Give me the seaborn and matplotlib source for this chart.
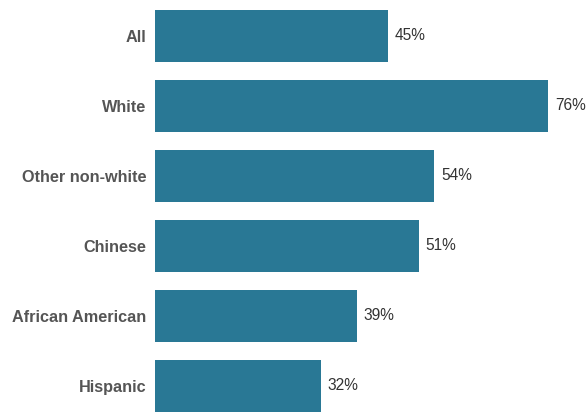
import pandas as pd
import matplotlib.pyplot as plt
import seaborn as sns

# Data
groups = ['All', 'White', 'Other non-white', 'Chinese', 'African American', 'Hispanic']
shares = [45, 76, 54, 51, 39, 32]
labels = [f"{v}%" for v in shares]

df = pd.DataFrame({'group': groups, 'share': shares})

sns.set_theme(style='white')
plt.rcParams['font.family'] = ['Liberation Sans', 'DejaVu Sans']

fig = plt.figure(figsize=(5.87, 4.13), dpi=100)
ax = fig.add_axes([155 / 587, 0, 432 / 587, 1])

sns.barplot(data=df, x='share', y='group', color='#297895', saturation=1,
            width=0.75, linewidth=0, ax=ax)

# value labels
ax.bar_label(ax.containers[0], labels=labels, padding=5, fontsize=11.2,
             color='#333333')

ax.set_xlim(0, 83.5)
ax.set_ylim(5.386, -0.514)
ax.set_xlabel('')
ax.set_ylabel('')
ax.set_xticks([])
ax.tick_params(axis='y', length=0, pad=6)
for t in ax.get_yticklabels():
    t.set_fontsize(11.7)
    t.set_fontweight('bold')
    t.set_color('#555555')
sns.despine(ax=ax, left=True, bottom=True)

fig.savefig('out.png', dpi=100)
